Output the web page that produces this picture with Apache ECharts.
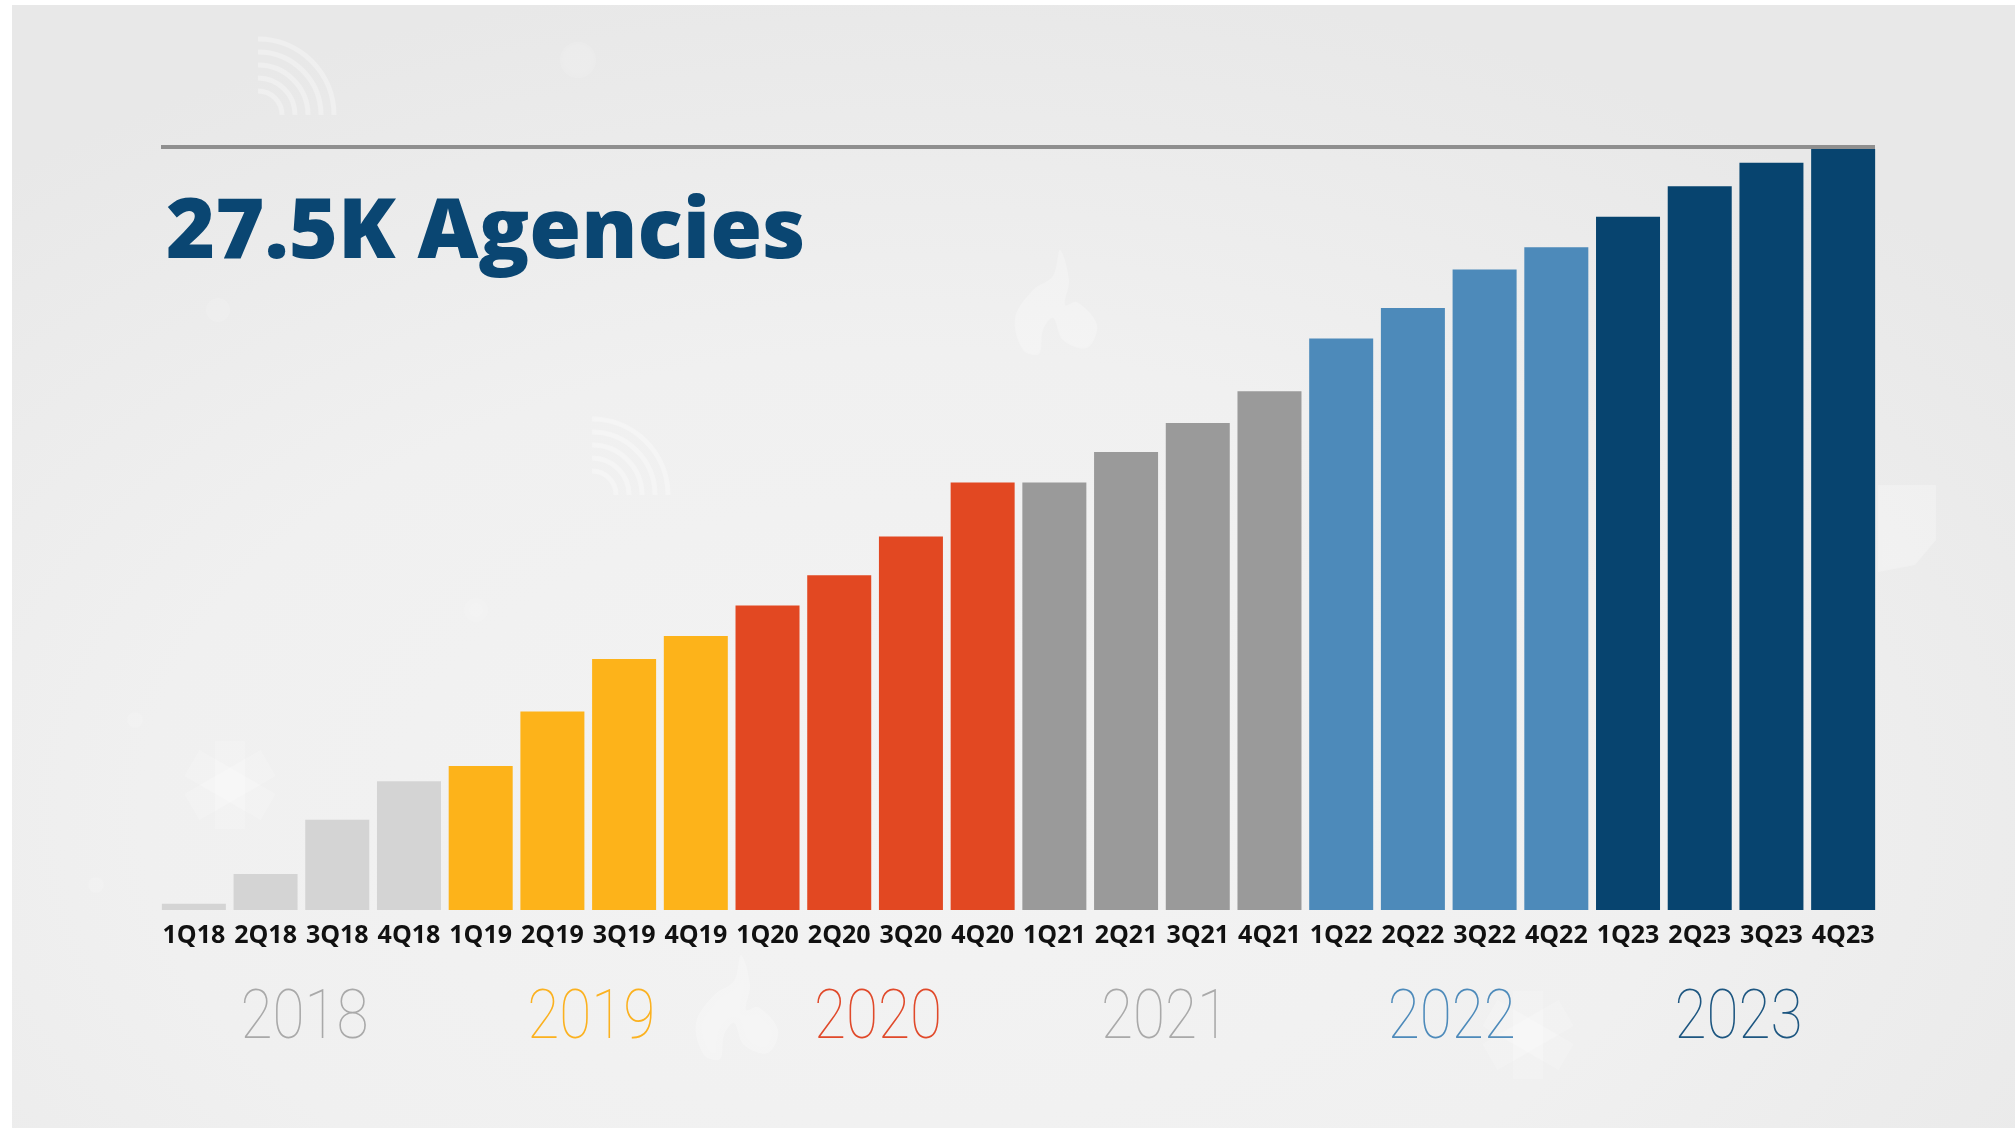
<!DOCTYPE html>
<html>
<head>
<meta charset="utf-8" />
<title>27.5K Agencies</title>
<script src="https://cdn.jsdelivr.net/npm/echarts@6/dist/echarts.min.js"></script>
<style>
  html, body { margin: 0; padding: 0; background: #fff; }
  #bg {
    position: absolute; left: 12px; top: 5px; width: 2003px; height: 1123px;
    background: radial-gradient(ellipse 70% 75% at 45% 72%, #f3f3f3 0%, #f0f0f0 55%, #e8e8e8 100%);
  }
  #chart { position: absolute; left: 0; top: 0; width: 2015px; height: 1128px; }
</style>
</head>
<body>
<div id="bg"></div>
<div id="chart"></div>
<script>
const quarters = [
  '1Q18', '2Q18', '3Q18', '4Q18', '1Q19', '2Q19', '3Q19', '4Q19',
  '1Q20', '2Q20', '3Q20', '4Q20', '1Q21', '2Q21', '3Q21', '4Q21',
  '1Q22', '2Q22', '3Q22', '4Q22', '1Q23', '2Q23', '3Q23', '4Q23',
]
// thousands of agencies
const agencies = [
  0.23, 1.3, 3.26, 4.65, 5.2, 7.17, 9.07, 9.9,
  11.0, 12.1, 13.5, 15.45, 15.45, 16.55, 17.6, 18.75,
  20.65, 21.75, 23.15, 23.95, 25.05, 26.15, 27.0, 27.5,
]
const years = ['2018', '2019', '2020', '2021', '2022', '2023']
const barColors = ['#d4d4d4', '#fdb31a', '#e24822', '#9a9a9a', '#4d8aba', '#07446f']
const yearColors = ['#a9a9a9', '#fbb11f', '#e0492a', '#a9a9a9', '#4d8aba', '#1d5680']

// faint background marks
const soft = { fill: 'rgba(255,255,255,0.22)', shadowBlur: 5, shadowColor: 'rgba(255,255,255,0.3)' }
const arcs = (cx, cy) => [24, 37, 50, 63, 76].map((r) => ({
  type: 'arc',
  silent: true,
  shape: { cx, cy, r, startAngle: -Math.PI / 2, endAngle: 0 },
  style: { stroke: 'rgba(255,255,255,0.28)', lineWidth: 5, fill: null, shadowBlur: 4, shadowColor: 'rgba(255,255,255,0.3)' },
}))
const dots = [[578, 60, 18], [218, 310, 12], [476, 610, 12], [135, 720, 8], [96, 885, 8]].map(([cx, cy, r]) => ({
  type: 'circle',
  silent: true,
  shape: { cx, cy, r },
  style: { fill: 'rgba(255,255,255,0.12)', shadowBlur: 8, shadowColor: 'rgba(255,255,255,0.2)' },
}))
const lifeStar = (x, y) => [0, 60, 120].map((deg) => ({
  type: 'rect',
  silent: true,
  x,
  y,
  rotation: (deg * Math.PI) / 180,
  shape: { x: -15, y: -44, width: 30, height: 88 },
  style: { fill: 'rgba(255,255,255,0.18)' },
}))
const flame = (x, y) => ({
  type: 'polygon',
  silent: true,
  x,
  y,
  shape: {
    smooth: 0.35,
    points: [[45, 0], [54, 30], [50, 55], [62, 52], [82, 75], [72, 98], [48, 90], [38, 68], [28, 80], [24, 104], [8, 100], [0, 68], [18, 40], [38, 26]],
  },
  style: soft,
})

const myChart = echarts.init(document.getElementById('chart'))
myChart.setOption({
  animation: false,
  title: {
    text: '27.5K Agencies',
    left: 166,
    top: 192,
    padding: 0,
    textStyle: {
      color: '#0a4672',
      fontFamily: 'Open Sans',
      fontWeight: 800,
      fontSize: 84,
    },
  },
  grid: { left: 158, top: 149, width: 1721, height: 761 },
  xAxis: [
    {
      type: 'category',
      data: quarters,
      axisLine: { show: false },
      axisTick: { show: false },
      axisLabel: {
        interval: 0,
        margin: 13,
        color: '#111',
        fontFamily: 'Open Sans',
        fontWeight: 700,
        fontSize: 25,
      },
    },
    { type: 'category', data: years, show: false },
  ],
  yAxis: { type: 'value', min: 0, max: 27.5, show: false },
  series: [
    {
      type: 'bar',
      data: agencies,
      barWidth: 64,
      itemStyle: {
        color: (params) => barColors[Math.floor(params.dataIndex / 4)],
      },
    },
  ],
})

// year captions need a narrower face than any installed font, so they are squeezed
const yearLabels = years.map((year, i) => ({
  type: 'text',
  x: myChart.convertToPixel({ xAxisIndex: 1 }, year) + 3,
  y: 1021,
  scaleX: 0.86,
  style: {
    text: year,
    fill: yearColors[i],
    font: '100 68px Roboto',
    align: 'center',
    verticalAlign: 'middle',
  },
}))

myChart.setOption({
  graphic: [
    ...arcs(258, 115),
    ...arcs(592, 495),
    ...dots,
    ...lifeStar(230, 785),
    ...lifeStar(1528, 1035),
    flame(1015, 250),
    flame(696, 955),
    {
      type: 'polygon',
      silent: true,
      shape: { points: [[1878, 485], [1936, 485], [1936, 540], [1915, 565], [1878, 572]] },
      style: soft,
    },
    ...yearLabels,
    {
      type: 'line',
      shape: { x1: 161, y1: 147, x2: 1875, y2: 147 },
      style: { stroke: '#8f8f8f', lineWidth: 4 },
      silent: true,
    },
  ],
})
</script>
</body>
</html>
